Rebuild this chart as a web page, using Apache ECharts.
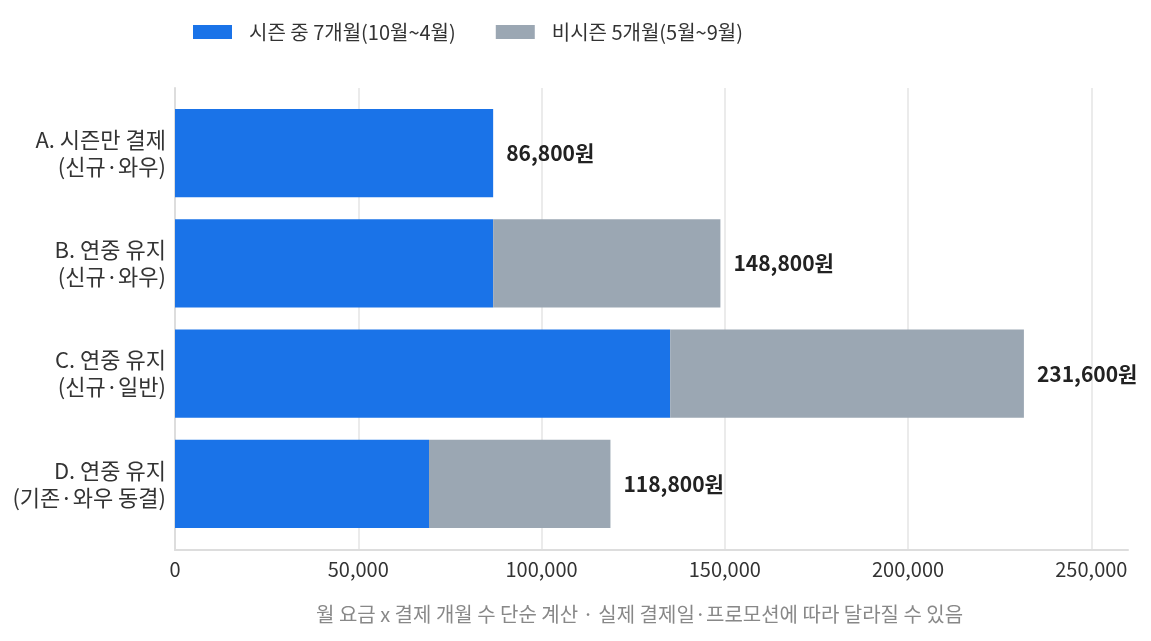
<!DOCTYPE html>
<html>
<head>
<meta charset="utf-8">
<script src="https://cdn.jsdelivr.net/npm/echarts@6/dist/echarts.min.js"></script>
<style>
  html, body { margin: 0; padding: 0; background: #fff; }
  #chart { width: 1151px; height: 641px; }
</style>
</head>
<body>
<div id="chart"></div>
<script>
var categories = ['A. 시즌만 결제\n(신규·와우)', 'B. 연중 유지\n(신규·와우)', 'C. 연중 유지\n(신규·일반)', 'D. 연중 유지\n(기존·와우 동결)'];
var seasonValues = [86800, 86800, 135100, 69300];   // 시즌 중 7개월
var offValues = [0, 62000, 96500, 49500];            // 비시즌 5개월
var totals = [86800, 148800, 231600, 118800];
var seriesNames = ['시즌 중 7개월(10월~4월)', '비시즌 5개월(5월~9월)'];
var footnote = '월 요금 x 결제 개월 수 단순 계산 · 실제 결제일·프로모션에 따라 달라질 수 있음';

var FONT = '"Noto Sans CJK KR", "Noto Sans", sans-serif';

function fmt(v) {
    return v.toLocaleString('en-US');
}

var myChart = echarts.init(document.getElementById('chart'));
var option = {
    backgroundColor: '#fff',
    textStyle: { fontFamily: FONT },
    title: {
        text: footnote,
        left: 311,
        top: 599,
        textStyle: { fontSize: 20, fontWeight: 'normal', color: '#888', fontFamily: FONT }
    },
    legend: {
        left: 188,
        top: 17,
        itemWidth: 39,
        itemHeight: 14,
        itemGap: 40,
        icon: 'rect',
        textStyle: { fontSize: 20, color: '#333', padding: [0, 0, 0, 12], fontFamily: FONT },
        data: seriesNames
    },
    grid: [
        { left: 175, right: 23, top: 98, bottom: 102 },  // 막대
        { left: 175, right: 23, top: 88, bottom: 91 }    // 축선
    ],
    xAxis: [
        { gridIndex: 0, type: 'value', min: 0, max: 260000, show: false },
        {
            gridIndex: 1, type: 'value', min: 0, max: 260000, interval: 50000,
            axisLine: { show: true, lineStyle: { color: '#dddddd', width: 2 } },
            axisTick: { show: false },
            axisLabel: { fontSize: 20, color: '#333', margin: 9, showMaxLabel: false, formatter: fmt, fontFamily: FONT },
            splitLine: { show: true, showMaxLine: false, lineStyle: { color: '#ebebeb', width: 2 } }
        }
    ],
    yAxis: [
        {
            gridIndex: 0, type: 'category', inverse: true, data: categories,
            axisLine: { show: false },
            axisTick: { show: false },
            axisLabel: { fontSize: 22, color: '#333', margin: 9, lineHeight: 27, align: 'right', fontFamily: FONT }
        },
        {
            gridIndex: 1, type: 'value',
            axisLine: { show: true, lineStyle: { color: '#dddddd', width: 2 } },
            axisTick: { show: false },
            axisLabel: { show: false },
            splitLine: { show: false }
        }
    ],
    series: [
        {
            name: seriesNames[0],
            type: 'bar',
            stack: 'total',
            xAxisIndex: 0,
            yAxisIndex: 0,
            barCategoryGap: '20%',
            itemStyle: { color: '#1a73e8' },
            data: seasonValues
        },
        {
            name: seriesNames[1],
            type: 'bar',
            stack: 'total',
            xAxisIndex: 0,
            yAxisIndex: 0,
            barCategoryGap: '20%',
            itemStyle: { color: '#9ba7b3' },
            label: {
                show: true,
                position: 'right',
                distance: 13,
                fontSize: 21,
                fontWeight: 'bold',
                color: '#222',
                fontFamily: FONT,
                formatter: function (p) { return fmt(totals[p.dataIndex]) + '원'; }
            },
            data: offValues
        }
    ]
};
myChart.setOption(option);
</script>
</body>
</html>
